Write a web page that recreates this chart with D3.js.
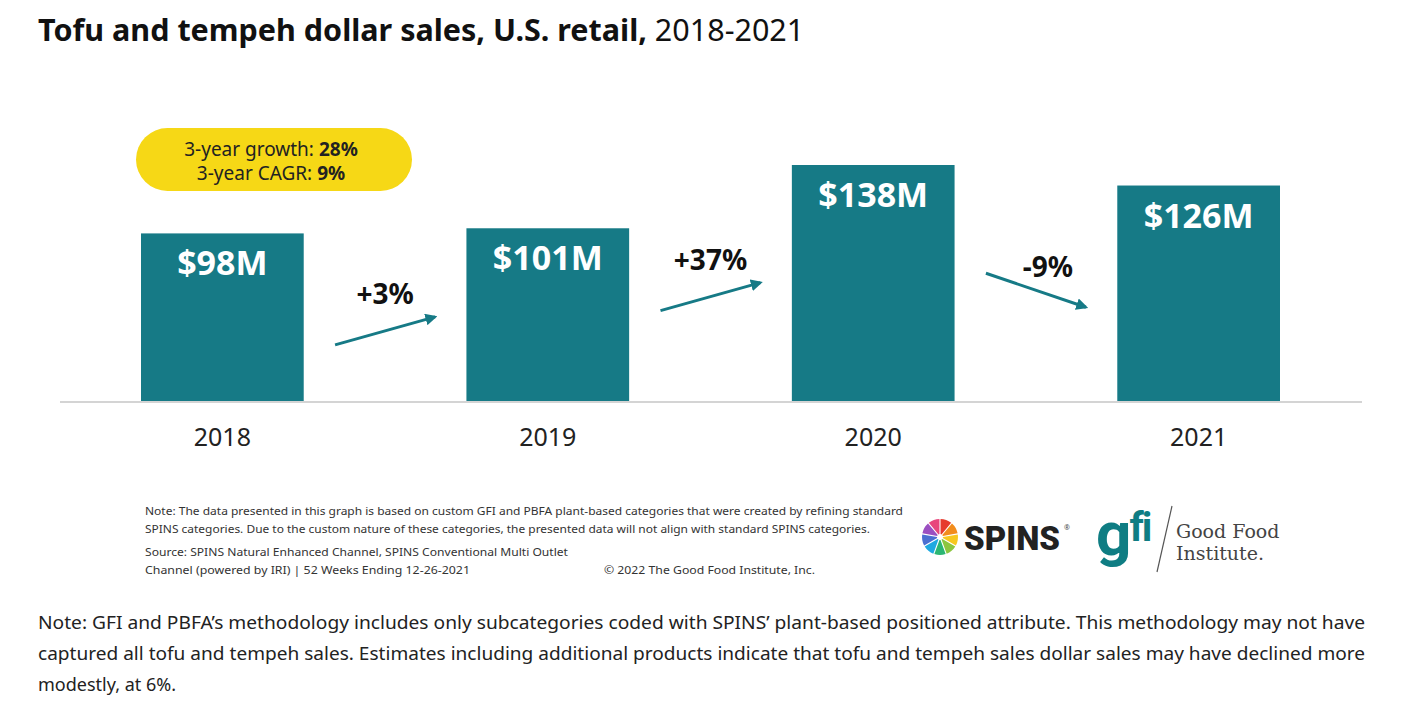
<!DOCTYPE html>
<html>
<head>
<meta charset="utf-8">
<script src="https://cdn.jsdelivr.net/npm/d3@7"></script>
<style>
  body { margin: 0; background: #fff; }
  svg { display: block; font-family: "Noto Sans", Roboto, sans-serif; }
</style>
</head>
<body>
<div class="svg-container"></div>
<script>
// Data
const years = ["2018", "2019", "2020", "2021"];
const sales = [98, 101, 138, 126];
const salesLabels = ["$98M", "$101M", "$138M", "$126M"];
const changeLabels = ["+3%", "+37%", "-9%"];
const growthText = ["3-year growth: ", "3-year CAGR: "];
const growthValues = ["28%", "9%"];
const noteLines = [
    "Note: The data presented in this graph is based on custom GFI and PBFA plant-based categories that were created by refining standard",
    "SPINS categories. Due to the custom nature of these categories, the presented data will not align with standard SPINS categories."
];
const sourceLines = [
    "Source: SPINS Natural Enhanced Channel, SPINS Conventional Multi Outlet",
    "Channel (powered by IRI) | 52 Weeks Ending 12-26-2021"
];
const bottomNote = [
    "Note: GFI and PBFA\u2019s methodology includes only subcategories coded with SPINS\u2019 plant-based positioned attribute. This methodology may not have",
    "captured all tofu and tempeh sales. Estimates including additional products indicate that tofu and tempeh sales dollar sales may have declined more",
    "modestly, at 6%."
];

// Global Variables
const width = 1421;
const height = 705;
const teal = "#167a86";

const svg = d3.select(".svg-container")
    .append("svg")
    .attr("width", width)
    .attr("height", height);

// Scales
const xScale = d3.scaleBand().domain(years).range([141, 1280]).paddingInner(0.5).paddingOuter(0);
const yScale = d3.scaleLinear().domain([0, 138]).range([401, 165]);

// Title
const title = svg.append("text")
    .attr("x", 38)
    .attr("y", 41)
    .style("font-size", "30.5px")
    .style("fill", "#111");
title.append("tspan").style("font-weight", "bold").text("Tofu and tempeh dollar sales, U.S. retail,");
title.append("tspan").text(" 2018-2021");

// Growth pill
const pill = svg.append("g");
pill.append("rect")
    .attr("x", 136)
    .attr("y", 128)
    .attr("width", 276)
    .attr("height", 63)
    .attr("rx", 31.5)
    .style("fill", "#f6d816");
pill.selectAll("text")
    .data(growthText)
    .enter()
    .append("text")
    .attr("x", 271)
    .attr("y", (d, i) => 156 + i * 24)
    .attr("text-anchor", "middle")
    .style("font-size", "19px")
    .style("fill", "#222")
    .each(function (d, i) {
        d3.select(this).append("tspan").text(d);
        d3.select(this).append("tspan").style("font-weight", "bold").text(growthValues[i]);
    });

// Baseline
svg.append("line")
    .attr("x1", 60)
    .attr("x2", 1362)
    .attr("y1", yScale(0) + 1)
    .attr("y2", yScale(0) + 1)
    .style("stroke", "#d4d4d4")
    .style("stroke-width", 2);

// Bars
svg.append("g")
    .selectAll("rect")
    .data(sales)
    .enter()
    .append("rect")
    .attr("x", (d, i) => xScale(years[i]))
    .attr("y", (d) => yScale(d))
    .attr("width", xScale.bandwidth())
    .attr("height", (d) => yScale(0) - yScale(d))
    .style("fill", teal);

// Bar labels
svg.append("g")
    .selectAll("text")
    .data(sales)
    .enter()
    .append("text")
    .attr("x", (d, i) => xScale(years[i]) + xScale.bandwidth() / 2)
    .attr("y", (d) => yScale(d) + 42)
    .attr("text-anchor", "middle")
    .style("font-size", "34px")
    .style("font-weight", "bold")
    .style("fill", "#fff")
    .text((d, i) => salesLabels[i]);

// X axis
const xAxis = d3.axisBottom(xScale).tickSize(0).tickPadding(27);
const gx = svg.append("g")
    .attr("transform", `translate(0, ${yScale(0)})`)
    .call(xAxis);
gx.select(".domain").remove();
gx.selectAll("text")
    .style("font-size", "25px")
    .style("font-family", "\"Noto Sans\", Roboto, sans-serif")
    .style("fill", "#222");

// Arrow marker
svg.append("defs")
    .append("marker")
    .attr("id", "arrow")
    .attr("viewBox", "0 0 10 10")
    .attr("refX", 8)
    .attr("refY", 5)
    .attr("markerWidth", 4)
    .attr("markerHeight", 4)
    .attr("orient", "auto")
    .append("path")
    .attr("d", "M0,0L10,5L0,10z")
    .style("fill", teal);

// Change arrows
const changes = changeLabels.map((label, i) => {
    const left = xScale(years[i]) + xScale.bandwidth();
    const right = xScale(years[i + 1]);
    const down = sales[i + 1] < sales[i];
    const cx = (left + right) / 2;
    const cy = yScale((sales[i] + sales[i + 1]) / 2) + (down ? 115 : 100);
    return { label, cx, cy, down };
});

const arrows = svg.append("g");
arrows.selectAll("line")
    .data(changes)
    .enter()
    .append("line")
    .attr("x1", (d) => d.cx - 50)
    .attr("x2", (d) => d.cx + 50)
    .attr("y1", (d) => d.cy + (d.down ? -17 : 14))
    .attr("y2", (d) => d.cy + (d.down ? 17 : -14))
    .style("stroke", teal)
    .style("stroke-width", 3)
    .attr("marker-end", "url(#arrow)");

arrows.selectAll("text")
    .data(changes)
    .enter()
    .append("text")
    .attr("x", (d) => d.cx + (d.down ? 12 : 0))
    .attr("y", (d) => d.cy - (d.down ? 13 : 27))
    .attr("text-anchor", "middle")
    .style("font-size", "28px")
    .style("font-weight", "bold")
    .style("fill", "#111")
    .text((d) => d.label);

// Footnotes
const foot = svg.append("g").style("font-size", "10px").style("fill", "#333");
foot.selectAll(".note")
    .data(noteLines)
    .enter()
    .append("text")
    .attr("class", "note")
    .attr("x", 145)
    .attr("y", (d, i) => 515 + i * 18)
    .attr("textLength", (d, i) => [758, 725][i])
    .attr("lengthAdjust", "spacingAndGlyphs")
    .text((d) => d);
foot.selectAll(".source")
    .data(sourceLines)
    .enter()
    .append("text")
    .attr("class", "source")
    .attr("x", 145)
    .attr("y", (d, i) => 556 + i * 18)
    .attr("textLength", (d, i) => [423, 325][i])
    .attr("lengthAdjust", "spacingAndGlyphs")
    .text((d) => d);
foot.append("text")
    .attr("x", 604)
    .attr("y", 574)
    .attr("textLength", 211)
    .attr("lengthAdjust", "spacingAndGlyphs")
    .text("\u00a9 2022 The Good Food Institute, Inc.");

// SPINS logo
const globeColors = ["#e63b2e", "#f28c1c", "#f7c81e", "#8cc63f", "#2bb673", "#1fa9e1", "#4b6fd1", "#9b4fc1", "#e8467c"];
const globe = svg.append("g").attr("transform", "translate(940, 537)");
globe.selectAll("path")
    .data(d3.pie().value(1)(globeColors))
    .enter()
    .append("path")
    .attr("d", d3.arc().innerRadius(3).outerRadius(18).padAngle(0.06))
    .style("fill", (d) => d.data);
svg.append("text")
    .attr("x", 964)
    .attr("y", 550)
    .style("font-size", "33px")
    .style("font-weight", "900")
    .style("font-family", "Roboto, sans-serif")
    .style("fill", "#222")
    .text("SPINS");
svg.append("text")
    .attr("x", 1064)
    .attr("y", 530)
    .style("font-size", "7px")
    .style("fill", "#444")
    .text("\u00ae");

// GFI logo
const gfi = svg.append("text")
    .attr("x", 1096)
    .attr("y", 555)
    .style("font-weight", "bold")
    .style("font-family", "Roboto, sans-serif")
    .style("fill", "#0f7d83");
gfi.append("tspan").style("font-size", "62px").text("g");
gfi.append("tspan").attr("dy", -14).attr("dx", -2).style("font-size", "40px").style("letter-spacing", "-2px").text("fi");
svg.append("line")
    .attr("x1", 1172)
    .attr("y1", 506)
    .attr("x2", 1157)
    .attr("y2", 572)
    .style("stroke", "#555")
    .style("stroke-width", 1.2);
svg.selectAll(".gfi-name")
    .data(["Good Food", "Institute."])
    .enter()
    .append("text")
    .attr("class", "gfi-name")
    .attr("x", 1176)
    .attr("y", (d, i) => 538 + i * 22)
    .style("font-size", "19px")
    .style("font-family", "\"DejaVu Serif\", \"Liberation Serif\", serif")
    .style("fill", "#444")
    .text((d) => d);

// Bottom note
svg.append("g")
    .selectAll("text")
    .data(bottomNote)
    .enter()
    .append("text")
    .attr("x", 38)
    .attr("y", (d, i) => 629 + i * 31)
    .attr("textLength", (d, i) => (i < 2 ? 1327 : null))
    .attr("lengthAdjust", "spacingAndGlyphs")
    .style("font-size", "18px")
    .style("fill", "#222")
    .text((d) => d);
</script>
</body>
</html>
